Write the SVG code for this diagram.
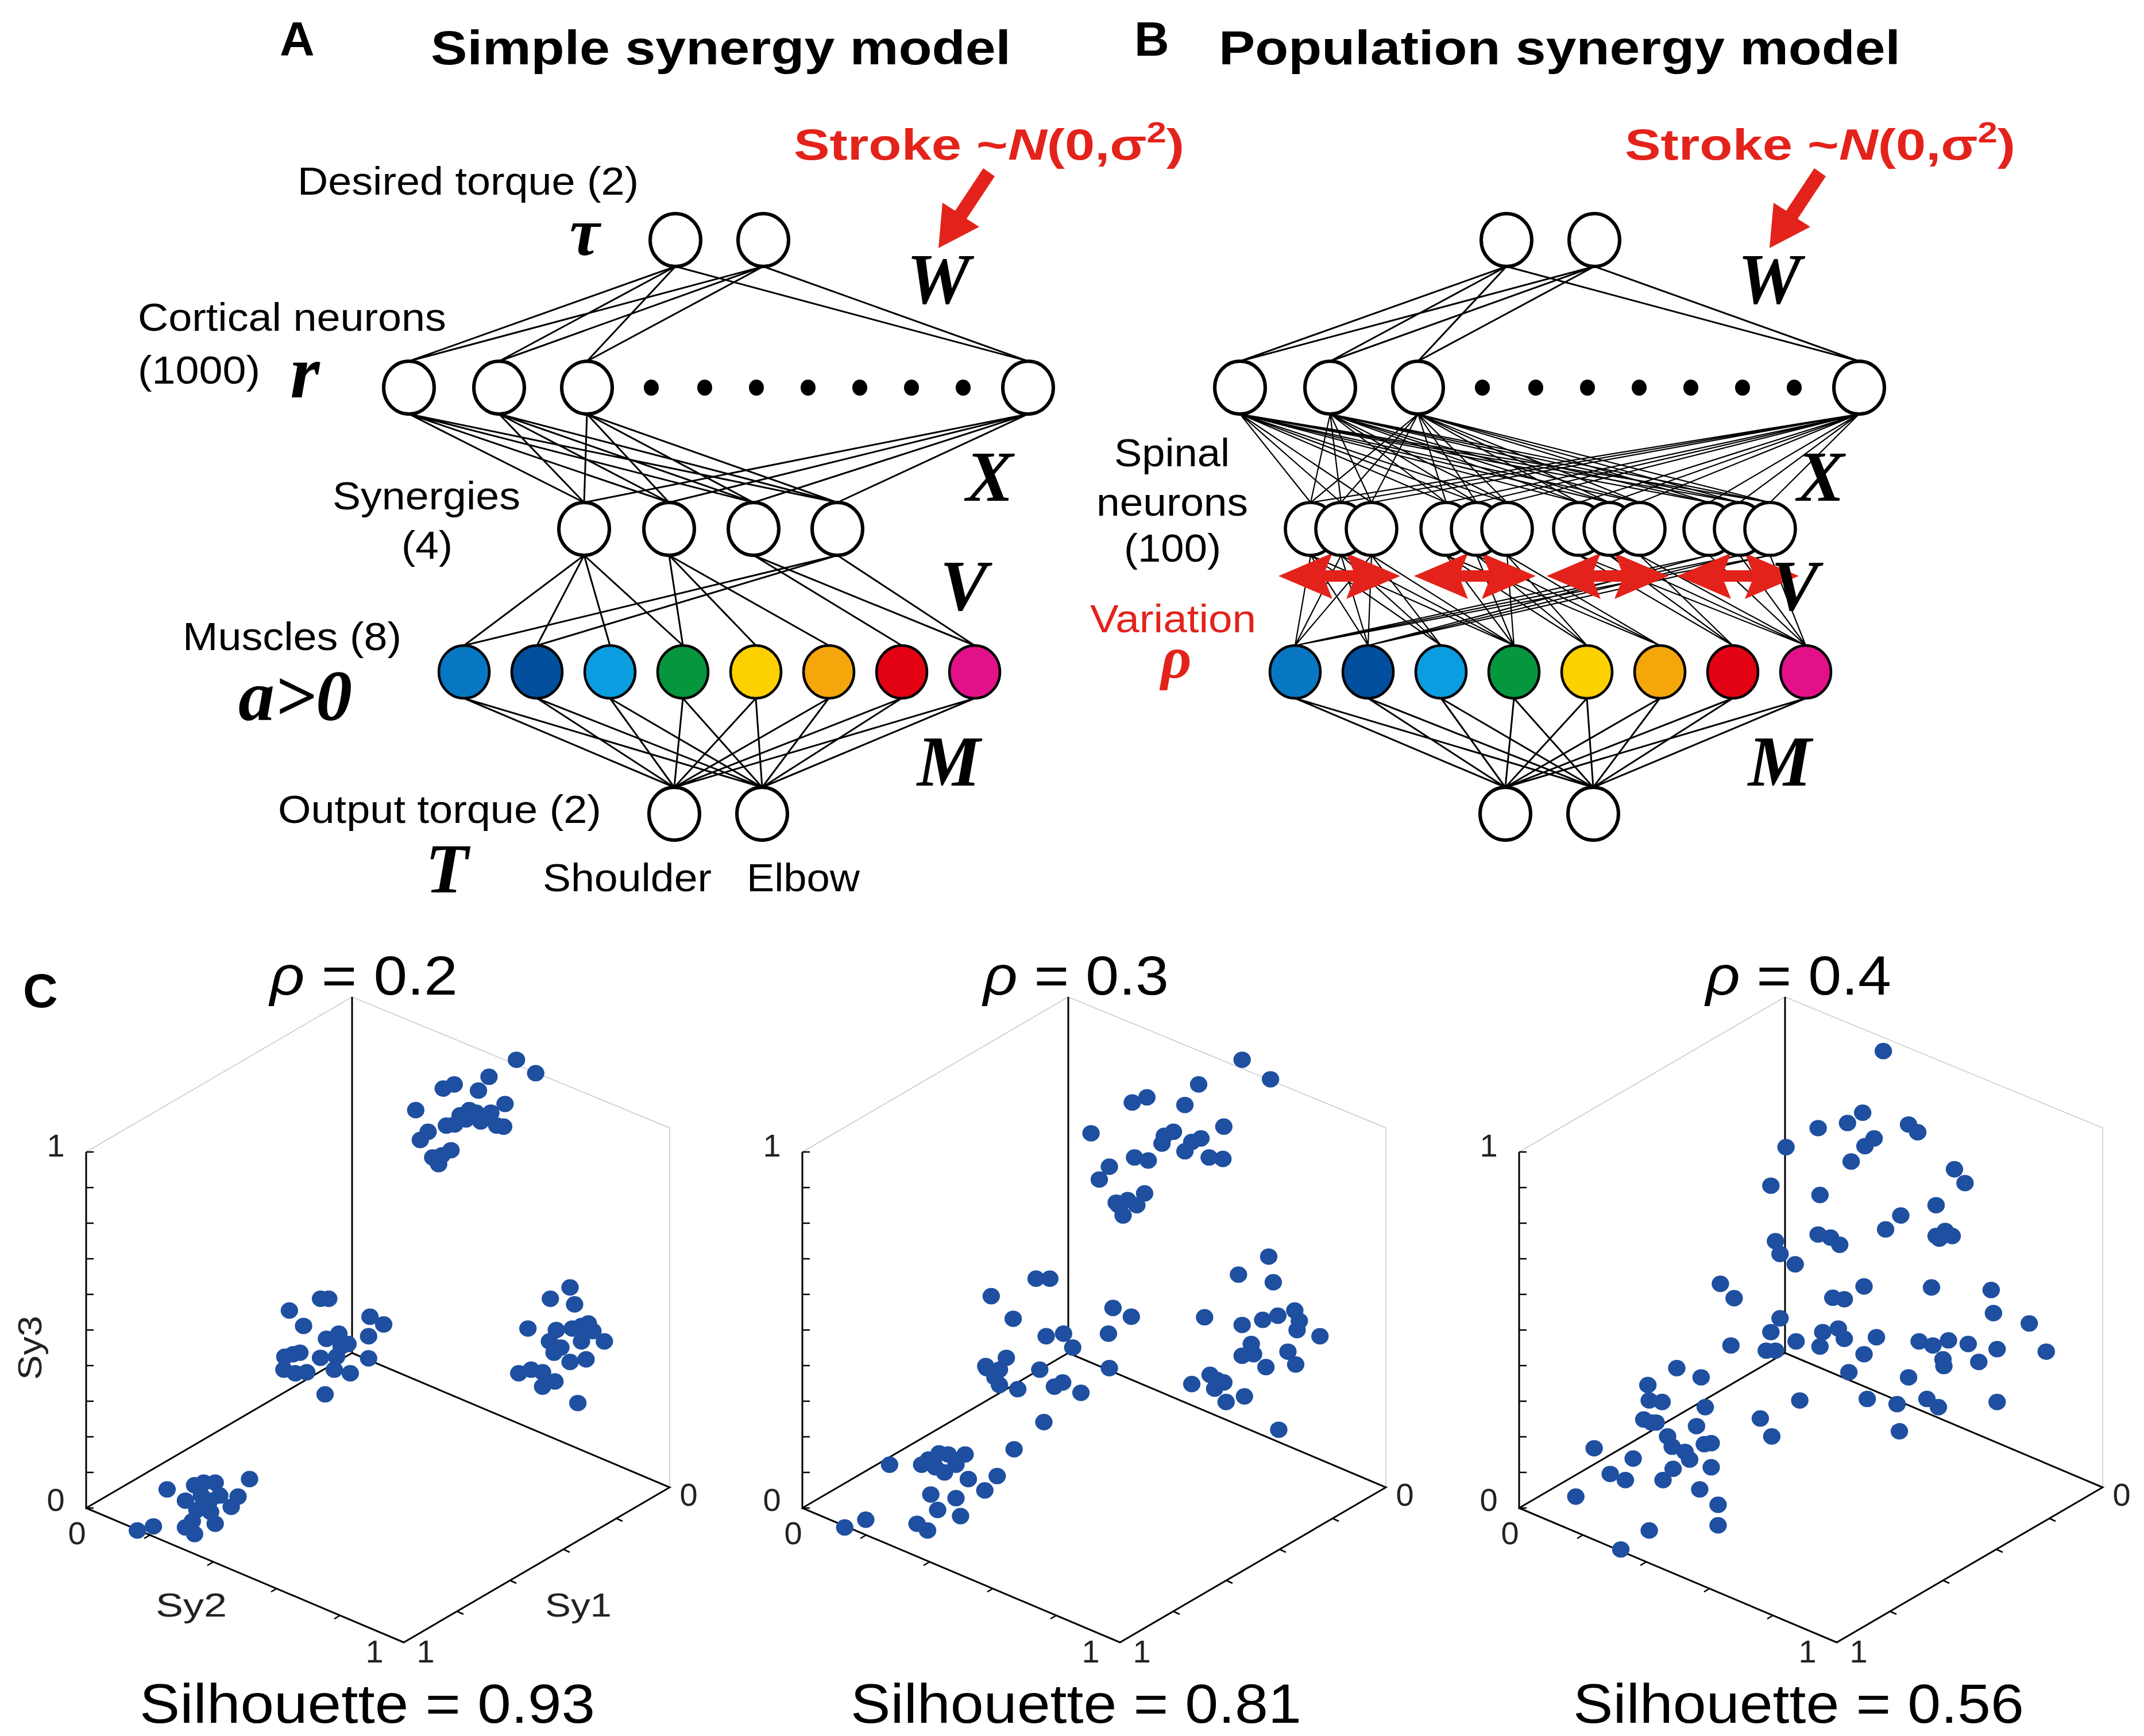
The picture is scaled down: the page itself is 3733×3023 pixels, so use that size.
<svg xmlns="http://www.w3.org/2000/svg" xmlns:xlink="http://www.w3.org/1999/xlink" width="3733" height="3023" viewBox="0 0 3733 3023">
<style>
.bg{fill:#fff}
.n{fill:#fff;stroke:#000;stroke-width:6}
.sp{fill:#fff;stroke:#000;stroke-width:5.5}
.m{stroke:#000;stroke-width:4.5}
.dot{fill:#000}
.c{stroke:#000;stroke-width:3;fill:none}
.cb{stroke:#000;stroke-width:2.2;fill:none}
.lab{font-family:"Liberation Sans",Arial,sans-serif;font-size:68px;fill:#000}
.ttl{font-family:"Liberation Sans",Arial,sans-serif;font-weight:bold;font-size:84px;fill:#000}
.mi{font-family:"Liberation Serif","Times New Roman",serif;font-style:italic;font-weight:bold;font-size:124px;fill:#000;text-anchor:middle}
.mb{font-family:"Liberation Serif","Times New Roman",serif;font-style:italic;font-weight:bold;fill:#000;text-anchor:middle}
.stk{font-family:"Liberation Sans",Arial,sans-serif;font-weight:bold;font-size:76px;fill:#e3231b}
.ax{stroke:#000;stroke-width:3;fill:none}
.gx{stroke:#c8c8c8;stroke-width:1.5;fill:none}
.tk{stroke:#000;stroke-width:2.5;fill:none}
.tl{font-family:"Liberation Sans",Arial,sans-serif;font-size:56px;fill:#222;text-anchor:middle}
.sy{font-family:"Liberation Sans",Arial,sans-serif;font-size:58px;fill:#222}
.big{font-family:"Liberation Sans",Arial,sans-serif;font-size:96px;fill:#000}
.red{fill:#e3231b}
</style>
<defs>
<ellipse id="d" rx="19" ry="16" fill="#1e4fa0"/>
<polygon id="dbl" points="-106,0 -12,-40 -24,-10 24,-10 12,-40 106,0 12,40 24,10 -24,10 -12,40" fill="#e3231b"/>
<polygon id="arr" points="1712,293 1663,367 1641,353 1634,432 1705,395 1683,381 1732,307" fill="#e3231b"/>
</defs>
<rect class="bg" x="0" y="0" width="3733" height="3023"/>

<!-- Titles -->
<text class="ttl" x="487" y="97" font-size="78">A</text>
<text class="ttl" x="750" y="112" textLength="1010" lengthAdjust="spacingAndGlyphs">Simple synergy model</text>
<text class="ttl" x="1975" y="97" font-size="78">B</text>
<text class="ttl" x="2122" y="112" textLength="1187" lengthAdjust="spacingAndGlyphs">Population synergy model</text>

<g id="connectors">
<!-- Panel A: W -->
<path class="c" d="M1176 464L712 629M1176 464L869 629M1176 464L1022 629M1176 464L1790 629M1329 464L712 629M1329 464L869 629M1329 464L1022 629M1329 464L1790 629"/>
<!-- Panel A: X -->
<path class="c" d="M712 721L1017 875M712 721L1165 875M712 721L1312 875M712 721L1458 875M869 721L1017 875M869 721L1165 875M869 721L1312 875M869 721L1458 875M1022 721L1017 875M1022 721L1165 875M1022 721L1312 875M1022 721L1458 875M1790 721L1017 875M1790 721L1165 875M1790 721L1312 875M1790 721L1458 875"/>
<!-- Panel A: V -->
<path class="c" d="M1017 967L808 1124M1017 967L935 1124M1017 967L1062 1124M1017 967L1189 1124M1165 967L1189 1124M1165 967L1316 1124M1165 967L1443 1124M1312 967L1570 1124M1312 967L1697 1124M1458 967L808 1124M1458 967L935 1124M1458 967L1697 1124"/>
<!-- Panel A: M -->
<path class="c" d="M808 1216L1174 1371M935 1216L1174 1371M1062 1216L1174 1371M1189 1216L1174 1371M1316 1216L1174 1371M1443 1216L1174 1371M1570 1216L1174 1371M1697 1216L1174 1371M808 1216L1327 1371M935 1216L1327 1371M1062 1216L1327 1371M1189 1216L1327 1371M1316 1216L1327 1371M1443 1216L1327 1371M1570 1216L1327 1371M1697 1216L1327 1371"/>
<!-- Panel B: W -->
<path class="c" d="M2623 464L2159 629M2623 464L2316 629M2623 464L2469 629M2623 464L3237 629M2776 464L2159 629M2776 464L2316 629M2776 464L2469 629M2776 464L3237 629"/>
<!-- Panel B: X -->
<path class="cb" d="M2159 721L2282 875M2159 721L2335 875M2159 721L2388 875M2159 721L2518 875M2159 721L2571 875M2159 721L2624 875M2159 721L2749 875M2159 721L2802 875M2159 721L2855 875M2159 721L2976 875M2159 721L3029 875M2159 721L3082 875"/>
<path class="cb" d="M2316 721L2282 875M2316 721L2335 875M2316 721L2388 875M2316 721L2518 875M2316 721L2571 875M2316 721L2624 875M2316 721L2749 875M2316 721L2802 875M2316 721L2855 875M2316 721L2976 875M2316 721L3029 875M2316 721L3082 875"/>
<path class="cb" d="M2469 721L2282 875M2469 721L2335 875M2469 721L2388 875M2469 721L2518 875M2469 721L2571 875M2469 721L2624 875M2469 721L2749 875M2469 721L2802 875M2469 721L2855 875M2469 721L2976 875M2469 721L3029 875M2469 721L3082 875"/>
<path class="cb" d="M3237 721L2282 875M3237 721L2335 875M3237 721L2388 875M3237 721L2518 875M3237 721L2571 875M3237 721L2624 875M3237 721L2749 875M3237 721L2802 875M3237 721L2855 875M3237 721L2976 875M3237 721L3029 875M3237 721L3082 875"/>
<!-- Panel B: V -->
<path class="cb" d="M2282 967L2255 1124M2282 967L2382 1124M2282 967L2509 1124M2282 967L2636 1124M2335 967L2255 1124M2335 967L2382 1124M2335 967L2509 1124M2335 967L2636 1124M2388 967L2255 1124M2388 967L2382 1124M2388 967L2509 1124M2388 967L2636 1124"/>
<path class="cb" d="M2518 967L2636 1124M2518 967L2763 1124M2518 967L2890 1124M2571 967L2636 1124M2571 967L2763 1124M2571 967L2890 1124M2624 967L2636 1124M2624 967L2763 1124M2624 967L2890 1124"/>
<path class="cb" d="M2749 967L3017 1124M2749 967L3144 1124M2802 967L3017 1124M2802 967L3144 1124M2855 967L3017 1124M2855 967L3144 1124"/>
<path class="cb" d="M2976 967L2255 1124M2976 967L2382 1124M2976 967L3144 1124M3029 967L2255 1124M3029 967L2382 1124M3029 967L3144 1124M3082 967L2255 1124M3082 967L2382 1124M3082 967L3144 1124"/>
<!-- Panel B: M -->
<path class="c" d="M2255 1216L2621 1371M2382 1216L2621 1371M2509 1216L2621 1371M2636 1216L2621 1371M2763 1216L2621 1371M2890 1216L2621 1371M3017 1216L2621 1371M3144 1216L2621 1371M2255 1216L2774 1371M2382 1216L2774 1371M2509 1216L2774 1371M2636 1216L2774 1371M2763 1216L2774 1371M2890 1216L2774 1371M3017 1216L2774 1371M3144 1216L2774 1371"/>
</g>

<!-- Red variation arrows -->
<g id="variation-arrows">
<use xlink:href="#dbl" href="#dbl" transform="translate(2332,1003)"/>
<use xlink:href="#dbl" href="#dbl" transform="translate(2568,1003)"/>
<use xlink:href="#dbl" href="#dbl" transform="translate(2799,1003)"/>
<use xlink:href="#dbl" href="#dbl" transform="translate(3026,1003)"/>
</g>

<!-- Panel A nodes -->
<g id="A-tau1"><ellipse class="n" cx="1176" cy="418" rx="44" ry="46"/></g>
<g id="A-tau2"><ellipse class="n" cx="1329" cy="418" rx="44" ry="46"/></g>
<g id="A-r1"><ellipse class="n" cx="712" cy="675" rx="44" ry="46"/></g>
<g id="A-r2"><ellipse class="n" cx="869" cy="675" rx="44" ry="46"/></g>
<g id="A-r3"><ellipse class="n" cx="1022" cy="675" rx="44" ry="46"/></g>
<g id="A-rN"><ellipse class="n" cx="1790" cy="675" rx="44" ry="46"/></g>
<g id="A-dots">
<ellipse class="dot" cx="1134" cy="675" rx="13" ry="14"/><ellipse class="dot" cx="1227" cy="675" rx="13" ry="14"/><ellipse class="dot" cx="1317" cy="675" rx="13" ry="14"/><ellipse class="dot" cx="1407" cy="675" rx="13" ry="14"/><ellipse class="dot" cx="1497" cy="675" rx="13" ry="14"/><ellipse class="dot" cx="1587" cy="675" rx="13" ry="14"/><ellipse class="dot" cx="1677" cy="675" rx="13" ry="14"/>
</g>
<g id="A-syn1"><ellipse class="n" cx="1017" cy="921" rx="44" ry="46"/></g>
<g id="A-syn2"><ellipse class="n" cx="1165" cy="921" rx="44" ry="46"/></g>
<g id="A-syn3"><ellipse class="n" cx="1312" cy="921" rx="44" ry="46"/></g>
<g id="A-syn4"><ellipse class="n" cx="1458" cy="921" rx="44" ry="46"/></g>
<g id="A-m1"><ellipse class="m" fill="#0877c3" cx="808" cy="1170" rx="44" ry="46"/></g>
<g id="A-m2"><ellipse class="m" fill="#024f9d" cx="935" cy="1170" rx="44" ry="46"/></g>
<g id="A-m3"><ellipse class="m" fill="#0a9de0" cx="1062" cy="1170" rx="44" ry="46"/></g>
<g id="A-m4"><ellipse class="m" fill="#06963e" cx="1189" cy="1170" rx="44" ry="46"/></g>
<g id="A-m5"><ellipse class="m" fill="#fdd000" cx="1316" cy="1170" rx="44" ry="46"/></g>
<g id="A-m6"><ellipse class="m" fill="#f4a60b" cx="1443" cy="1170" rx="44" ry="46"/></g>
<g id="A-m7"><ellipse class="m" fill="#e30114" cx="1570" cy="1170" rx="44" ry="46"/></g>
<g id="A-m8"><ellipse class="m" fill="#e2118a" cx="1697" cy="1170" rx="44" ry="46"/></g>
<g id="A-T1"><ellipse class="n" cx="1174" cy="1417" rx="44" ry="46"/></g>
<g id="A-T2"><ellipse class="n" cx="1327" cy="1417" rx="44" ry="46"/></g>

<!-- Panel B nodes -->
<g id="B-tau1"><ellipse class="n" cx="2623" cy="418" rx="44" ry="46"/></g>
<g id="B-tau2"><ellipse class="n" cx="2776" cy="418" rx="44" ry="46"/></g>
<g id="B-r1"><ellipse class="n" cx="2159" cy="675" rx="44" ry="46"/></g>
<g id="B-r2"><ellipse class="n" cx="2316" cy="675" rx="44" ry="46"/></g>
<g id="B-r3"><ellipse class="n" cx="2469" cy="675" rx="44" ry="46"/></g>
<g id="B-rN"><ellipse class="n" cx="3237" cy="675" rx="44" ry="46"/></g>
<g id="B-dots">
<ellipse class="dot" cx="2581" cy="675" rx="13" ry="14"/><ellipse class="dot" cx="2674" cy="675" rx="13" ry="14"/><ellipse class="dot" cx="2764" cy="675" rx="13" ry="14"/><ellipse class="dot" cx="2854" cy="675" rx="13" ry="14"/><ellipse class="dot" cx="2944" cy="675" rx="13" ry="14"/><ellipse class="dot" cx="3034" cy="675" rx="13" ry="14"/><ellipse class="dot" cx="3124" cy="675" rx="13" ry="14"/>
</g>
<g id="B-spinal1"><ellipse class="sp" cx="2282" cy="921" rx="44" ry="46"/><ellipse class="sp" cx="2335" cy="921" rx="44" ry="46"/><ellipse class="sp" cx="2388" cy="921" rx="44" ry="46"/></g>
<g id="B-spinal2"><ellipse class="sp" cx="2518" cy="921" rx="44" ry="46"/><ellipse class="sp" cx="2571" cy="921" rx="44" ry="46"/><ellipse class="sp" cx="2624" cy="921" rx="44" ry="46"/></g>
<g id="B-spinal3"><ellipse class="sp" cx="2749" cy="921" rx="44" ry="46"/><ellipse class="sp" cx="2802" cy="921" rx="44" ry="46"/><ellipse class="sp" cx="2855" cy="921" rx="44" ry="46"/></g>
<g id="B-spinal4"><ellipse class="sp" cx="2976" cy="921" rx="44" ry="46"/><ellipse class="sp" cx="3029" cy="921" rx="44" ry="46"/><ellipse class="sp" cx="3082" cy="921" rx="44" ry="46"/></g>
<g id="B-m1"><ellipse class="m" fill="#0877c3" cx="2255" cy="1170" rx="44" ry="46"/></g>
<g id="B-m2"><ellipse class="m" fill="#024f9d" cx="2382" cy="1170" rx="44" ry="46"/></g>
<g id="B-m3"><ellipse class="m" fill="#0a9de0" cx="2509" cy="1170" rx="44" ry="46"/></g>
<g id="B-m4"><ellipse class="m" fill="#06963e" cx="2636" cy="1170" rx="44" ry="46"/></g>
<g id="B-m5"><ellipse class="m" fill="#fdd000" cx="2763" cy="1170" rx="44" ry="46"/></g>
<g id="B-m6"><ellipse class="m" fill="#f4a60b" cx="2890" cy="1170" rx="44" ry="46"/></g>
<g id="B-m7"><ellipse class="m" fill="#e30114" cx="3017" cy="1170" rx="44" ry="46"/></g>
<g id="B-m8"><ellipse class="m" fill="#e2118a" cx="3144" cy="1170" rx="44" ry="46"/></g>
<g id="B-T1"><ellipse class="n" cx="2621" cy="1417" rx="44" ry="46"/></g>
<g id="B-T2"><ellipse class="n" cx="2774" cy="1417" rx="44" ry="46"/></g>

<!-- Panel A labels -->
<g id="A-labels">
<text class="lab" x="518" y="339" textLength="594" lengthAdjust="spacingAndGlyphs">Desired torque (2)</text>
<text class="mb" x="1018" y="444" font-size="118">τ</text>
<text class="lab" x="240" y="576" textLength="537" lengthAdjust="spacingAndGlyphs">Cortical neurons</text>
<text class="lab" x="240" y="668" textLength="213" lengthAdjust="spacingAndGlyphs">(1000)</text>
<text class="mb" x="531" y="692" font-size="132">r</text>
<text class="lab" x="579" y="887" textLength="327" lengthAdjust="spacingAndGlyphs">Synergies</text>
<text class="lab" x="699" y="973" textLength="89" lengthAdjust="spacingAndGlyphs">(4)</text>
<text class="lab" x="318" y="1132" textLength="381" lengthAdjust="spacingAndGlyphs">Muscles (8)</text>
<text class="mb" x="514" y="1254" font-size="124" textLength="198" lengthAdjust="spacingAndGlyphs">a&gt;0</text>
<text class="lab" x="484" y="1433" textLength="563" lengthAdjust="spacingAndGlyphs">Output torque (2)</text>
<text class="mb" x="778" y="1554" font-size="122">T</text>
<text class="lab" x="945" y="1552" textLength="294" lengthAdjust="spacingAndGlyphs">Shoulder</text>
<text class="lab" x="1300" y="1552" textLength="197" lengthAdjust="spacingAndGlyphs">Elbow</text>
<text class="mi" x="1634" y="528">W</text>
<text class="mi" x="1723" y="872">X</text>
<text class="mi" x="1678" y="1062">V</text>
<text class="mi" x="1652" y="1368">M</text>
<text class="stk" x="1382" y="278" textLength="680" lengthAdjust="spacingAndGlyphs">Stroke ~<tspan font-style="italic">N</tspan>(0,σ<tspan dy="-30" font-size="50">2</tspan><tspan dy="30">)</tspan></text>
<use xlink:href="#arr" href="#arr"/>
</g>

<!-- Panel B labels -->
<g id="B-labels">
<text class="lab" x="1940" y="812" textLength="201" lengthAdjust="spacingAndGlyphs">Spinal</text>
<text class="lab" x="1909" y="898" textLength="264" lengthAdjust="spacingAndGlyphs">neurons</text>
<text class="lab" x="1957" y="978" textLength="169" lengthAdjust="spacingAndGlyphs">(100)</text>
<text class="lab" x="1898" y="1101" textLength="289" lengthAdjust="spacingAndGlyphs" style="fill:#e3231b">Variation</text>
<text class="mb" x="2048" y="1180" font-size="104" style="fill:#e3231b">ρ</text>
<text class="mi" x="3081" y="528">W</text>
<text class="mi" x="3170" y="872">X</text>
<text class="mi" x="3125" y="1062">V</text>
<text class="mi" x="3099" y="1368">M</text>
<text class="stk" x="2829" y="278" textLength="680" lengthAdjust="spacingAndGlyphs">Stroke ~<tspan font-style="italic">N</tspan>(0,σ<tspan dy="-30" font-size="50">2</tspan><tspan dy="30">)</tspan></text>
<use xlink:href="#arr" href="#arr" transform="translate(1447,0)"/>
</g>

<!-- Panel C -->
<text class="ttl" x="40" y="1754" font-size="76">C</text>

<g id="C-frame1">
<path class="gx" d="M150 2006L613 1736L1166 1964L1166 2590"/>
<path class="ax" d="M613 1736L613 2356L150 2626L150 2006M613 2356L1166 2590L703 2860L150 2626"/>
<path class="tk" d="M150 2626h13M150 2564h13M150 2502h13M150 2440h13M150 2378h13M150 2316h13M150 2254h13M150 2192h13M150 2130h13M150 2068h13M150 2006h13"/>
<path class="tk" d="M261 2673l-10 6M371 2720l-10 6M482 2766l-10 6M592 2813l-10 6M796 2806l11 5M888 2752l11 5M981 2698l11 5M1073 2644l11 5"/>
<text class="tl" x="97" y="2014">1</text>
<text class="tl" x="97" y="2631">0</text>
<text class="tl" x="134" y="2689">0</text>
<text class="tl" x="652" y="2895">1</text>
<text class="tl" x="741" y="2895">1</text>
<text class="tl" x="1199" y="2622">0</text>
</g>
<g id="C-frame2" transform="translate(1247,0)">
<path class="gx" d="M150 2006L613 1736L1166 1964L1166 2590"/>
<path class="ax" d="M613 1736L613 2356L150 2626L150 2006M613 2356L1166 2590L703 2860L150 2626"/>
<path class="tk" d="M150 2626h13M150 2564h13M150 2502h13M150 2440h13M150 2378h13M150 2316h13M150 2254h13M150 2192h13M150 2130h13M150 2068h13M150 2006h13"/>
<path class="tk" d="M261 2673l-10 6M371 2720l-10 6M482 2766l-10 6M592 2813l-10 6M796 2806l11 5M888 2752l11 5M981 2698l11 5M1073 2644l11 5"/>
<text class="tl" x="97" y="2014">1</text>
<text class="tl" x="97" y="2631">0</text>
<text class="tl" x="134" y="2689">0</text>
<text class="tl" x="652" y="2895">1</text>
<text class="tl" x="741" y="2895">1</text>
<text class="tl" x="1199" y="2622">0</text>
</g>
<g id="C-frame3" transform="translate(2495,0)">
<path class="gx" d="M150 2006L613 1736L1166 1964L1166 2590"/>
<path class="ax" d="M613 1736L613 2356L150 2626L150 2006M613 2356L1166 2590L703 2860L150 2626"/>
<path class="tk" d="M150 2626h13M150 2564h13M150 2502h13M150 2440h13M150 2378h13M150 2316h13M150 2254h13M150 2192h13M150 2130h13M150 2068h13M150 2006h13"/>
<path class="tk" d="M261 2673l-10 6M371 2720l-10 6M482 2766l-10 6M592 2813l-10 6M796 2806l11 5M888 2752l11 5M981 2698l11 5M1073 2644l11 5"/>
<text class="tl" x="97" y="2014">1</text>
<text class="tl" x="97" y="2631">0</text>
<text class="tl" x="134" y="2689">0</text>
<text class="tl" x="652" y="2895">1</text>
<text class="tl" x="741" y="2895">1</text>
<text class="tl" x="1199" y="2622">0</text>
</g>

<g id="C-axis-names">
<text class="sy" text-anchor="middle" transform="translate(72,2347) rotate(-90)" textLength="112" lengthAdjust="spacingAndGlyphs">Sy3</text>
<text class="sy" x="271" y="2815" textLength="124" lengthAdjust="spacingAndGlyphs">Sy2</text>
<text class="sy" x="949" y="2815" textLength="116" lengthAdjust="spacingAndGlyphs">Sy1</text>
</g>

<g id="C-titles">
<text class="big" x="470" y="1732" textLength="327" lengthAdjust="spacingAndGlyphs"><tspan font-style="italic">ρ</tspan> = 0.2</text>
<text class="big" x="1712" y="1732" textLength="323" lengthAdjust="spacingAndGlyphs"><tspan font-style="italic">ρ</tspan> = 0.3</text>
<text class="big" x="2970" y="1732" textLength="323" lengthAdjust="spacingAndGlyphs"><tspan font-style="italic">ρ</tspan> = 0.4</text>
<text class="big" x="243" y="3000" font-size="100" textLength="793" lengthAdjust="spacingAndGlyphs">Silhouette = 0.93</text>
<text class="big" x="1481" y="3000" font-size="100" textLength="785" lengthAdjust="spacingAndGlyphs">Silhouette = 0.81</text>
<text class="big" x="2739" y="3000" font-size="100" textLength="785" lengthAdjust="spacingAndGlyphs">Silhouette = 0.56</text>
</g>

<g id="C-points1" transform="translate(0,1620) scale(0.7972,0.8948)">
<use href="#d" x="1128" y="252"/><use href="#d" x="1170" y="278"/><use href="#d" x="1068" y="285"/><use href="#d" x="968" y="308"/><use href="#d" x="992" y="300"/><use href="#d" x="1045" y="312"/><use href="#d" x="908" y="350"/><use href="#d" x="1103" y="338"/><use href="#d" x="1025" y="350"/><use href="#d" x="1005" y="360"/><use href="#d" x="1040" y="355"/><use href="#d" x="1072" y="355"/><use href="#d" x="975" y="380"/><use href="#d" x="993" y="378"/><use href="#d" x="1050" y="372"/><use href="#d" x="1018" y="368"/><use href="#d" x="1100" y="382"/><use href="#d" x="935" y="392"/><use href="#d" x="918" y="408"/><use href="#d" x="985" y="428"/><use href="#d" x="965" y="438"/><use href="#d" x="945" y="442"/><use href="#d" x="958" y="455"/><use href="#d" x="1085" y="380"/>
<use href="#d" x="700" y="717"/><use href="#d" x="718" y="717"/><use href="#d" x="632" y="740"/><use href="#d" x="663" y="770"/><use href="#d" x="740" y="785"/><use href="#d" x="713" y="795"/><use href="#d" x="808" y="752"/><use href="#d" x="838" y="767"/><use href="#d" x="805" y="790"/><use href="#d" x="622" y="830"/><use href="#d" x="640" y="825"/><use href="#d" x="655" y="822"/><use href="#d" x="700" y="832"/><use href="#d" x="745" y="810"/><use href="#d" x="760" y="805"/><use href="#d" x="620" y="855"/><use href="#d" x="645" y="862"/><use href="#d" x="670" y="860"/><use href="#d" x="730" y="855"/><use href="#d" x="765" y="862"/><use href="#d" x="805" y="833"/><use href="#d" x="710" y="903"/><use href="#d" x="735" y="830"/>
<use href="#d" x="1245" y="695"/><use href="#d" x="1202" y="717"/><use href="#d" x="1255" y="728"/><use href="#d" x="1153" y="775"/><use href="#d" x="1215" y="778"/><use href="#d" x="1250" y="775"/><use href="#d" x="1270" y="770"/><use href="#d" x="1285" y="765"/><use href="#d" x="1295" y="780"/><use href="#d" x="1320" y="800"/><use href="#d" x="1200" y="800"/><use href="#d" x="1225" y="812"/><use href="#d" x="1270" y="800"/><use href="#d" x="1210" y="822"/><use href="#d" x="1245" y="840"/><use href="#d" x="1280" y="835"/><use href="#d" x="1133" y="862"/><use href="#d" x="1160" y="855"/><use href="#d" x="1185" y="860"/><use href="#d" x="1185" y="888"/><use href="#d" x="1212" y="878"/><use href="#d" x="1262" y="920"/>
<use href="#d" x="365" y="1088"/><use href="#d" x="425" y="1080"/><use href="#d" x="445" y="1075"/><use href="#d" x="470" y="1075"/><use href="#d" x="545" y="1068"/><use href="#d" x="405" y="1110"/><use href="#d" x="440" y="1100"/><use href="#d" x="480" y="1100"/><use href="#d" x="520" y="1102"/><use href="#d" x="505" y="1122"/><use href="#d" x="430" y="1128"/><use href="#d" x="460" y="1132"/><use href="#d" x="470" y="1155"/><use href="#d" x="420" y="1150"/><use href="#d" x="405" y="1162"/><use href="#d" x="425" y="1175"/><use href="#d" x="300" y="1168"/><use href="#d" x="335" y="1160"/><use href="#d" x="458" y="1110"/>
</g>

<g id="C-points2" transform="translate(1230,1620) scale(0.7972,0.8948)">
<use href="#d" x="1170" y="252"/><use href="#d" x="1232" y="290"/><use href="#d" x="1075" y="300"/><use href="#d" x="930" y="335"/><use href="#d" x="962" y="325"/><use href="#d" x="1045" y="340"/><use href="#d" x="840" y="395"/><use href="#d" x="1130" y="382"/><use href="#d" x="1020" y="392"/><use href="#d" x="1000" y="400"/><use href="#d" x="995" y="415"/><use href="#d" x="1060" y="412"/><use href="#d" x="1080" y="405"/><use href="#d" x="1045" y="430"/><use href="#d" x="1098" y="442"/><use href="#d" x="1128" y="445"/><use href="#d" x="935" y="442"/><use href="#d" x="965" y="448"/><use href="#d" x="880" y="460"/><use href="#d" x="858" y="485"/><use href="#d" x="957" y="512"/><use href="#d" x="895" y="530"/><use href="#d" x="920" y="525"/><use href="#d" x="940" y="535"/><use href="#d" x="910" y="555"/><use href="#d" x="900" y="535"/>
<use href="#d" x="1228" y="635"/><use href="#d" x="1162" y="670"/><use href="#d" x="1238" y="685"/><use href="#d" x="1088" y="753"/><use href="#d" x="888" y="735"/><use href="#d" x="928" y="752"/><use href="#d" x="1170" y="768"/><use href="#d" x="1215" y="758"/><use href="#d" x="1248" y="750"/><use href="#d" x="1285" y="740"/><use href="#d" x="1295" y="760"/><use href="#d" x="1340" y="790"/><use href="#d" x="1290" y="778"/><use href="#d" x="878" y="785"/><use href="#d" x="1190" y="805"/><use href="#d" x="1170" y="828"/><use href="#d" x="1195" y="825"/><use href="#d" x="1222" y="850"/><use href="#d" x="1270" y="820"/><use href="#d" x="1287" y="845"/><use href="#d" x="880" y="852"/><use href="#d" x="1100" y="865"/><use href="#d" x="1060" y="883"/><use href="#d" x="1115" y="875"/><use href="#d" x="1130" y="880"/><use href="#d" x="1110" y="892"/><use href="#d" x="1135" y="918"/><use href="#d" x="1175" y="907"/><use href="#d" x="1250" y="972"/>
<use href="#d" x="720" y="678"/><use href="#d" x="750" y="678"/><use href="#d" x="622" y="712"/><use href="#d" x="670" y="756"/><use href="#d" x="742" y="790"/><use href="#d" x="780" y="785"/><use href="#d" x="800" y="812"/><use href="#d" x="610" y="848"/><use href="#d" x="655" y="832"/><use href="#d" x="640" y="855"/><use href="#d" x="612" y="852"/><use href="#d" x="728" y="855"/><use href="#d" x="760" y="888"/><use href="#d" x="778" y="880"/><use href="#d" x="818" y="900"/><use href="#d" x="640" y="885"/><use href="#d" x="680" y="893"/><use href="#d" x="630" y="870"/><use href="#d" x="737" y="957"/><use href="#d" x="672" y="1010"/>
<use href="#d" x="400" y="1040"/><use href="#d" x="485" y="1030"/><use href="#d" x="508" y="1018"/><use href="#d" x="528" y="1020"/><use href="#d" x="565" y="1020"/><use href="#d" x="500" y="1045"/><use href="#d" x="520" y="1055"/><use href="#d" x="545" y="1040"/><use href="#d" x="572" y="1068"/><use href="#d" x="635" y="1062"/><use href="#d" x="490" y="1098"/><use href="#d" x="545" y="1105"/><use href="#d" x="608" y="1090"/><use href="#d" x="505" y="1128"/><use href="#d" x="555" y="1140"/><use href="#d" x="460" y="1155"/><use href="#d" x="483" y="1168"/><use href="#d" x="348" y="1147"/><use href="#d" x="302" y="1162"/><use href="#d" x="470" y="1040"/>
</g>

<g id="C-points3" transform="translate(2480,1620) scale(0.7991,0.8948)">
<use href="#d" x="1000" y="235"/><use href="#d" x="955" y="355"/><use href="#d" x="858" y="385"/><use href="#d" x="922" y="375"/><use href="#d" x="1055" y="378"/><use href="#d" x="1075" y="393"/><use href="#d" x="980" y="405"/><use href="#d" x="960" y="420"/><use href="#d" x="788" y="422"/><use href="#d" x="930" y="450"/><use href="#d" x="1155" y="465"/><use href="#d" x="1178" y="492"/><use href="#d" x="755" y="497"/><use href="#d" x="862" y="515"/><use href="#d" x="1115" y="535"/><use href="#d" x="1038" y="555"/><use href="#d" x="1005" y="582"/><use href="#d" x="858" y="592"/><use href="#d" x="885" y="598"/><use href="#d" x="905" y="612"/><use href="#d" x="1115" y="595"/><use href="#d" x="1135" y="585"/><use href="#d" x="1150" y="595"/><use href="#d" x="1122" y="600"/><use href="#d" x="765" y="605"/><use href="#d" x="775" y="630"/><use href="#d" x="808" y="650"/><use href="#d" x="645" y="688"/><use href="#d" x="675" y="716"/><use href="#d" x="958" y="693"/><use href="#d" x="1105" y="695"/><use href="#d" x="1235" y="700"/><use href="#d" x="890" y="715"/><use href="#d" x="915" y="718"/><use href="#d" x="1240" y="745"/><use href="#d" x="775" y="755"/><use href="#d" x="755" y="782"/><use href="#d" x="868" y="782"/><use href="#d" x="902" y="775"/><use href="#d" x="915" y="795"/><use href="#d" x="985" y="792"/><use href="#d" x="1318" y="765"/><use href="#d" x="810" y="800"/><use href="#d" x="668" y="808"/><use href="#d" x="745" y="818"/><use href="#d" x="765" y="818"/><use href="#d" x="862" y="810"/><use href="#d" x="1078" y="800"/><use href="#d" x="1108" y="808"/><use href="#d" x="1142" y="798"/><use href="#d" x="1185" y="805"/><use href="#d" x="1248" y="815"/><use href="#d" x="1355" y="820"/><use href="#d" x="958" y="825"/><use href="#d" x="1130" y="835"/><use href="#d" x="1132" y="848"/><use href="#d" x="1208" y="840"/><use href="#d" x="550" y="852"/><use href="#d" x="603" y="870"/><use href="#d" x="925" y="860"/><use href="#d" x="1055" y="870"/><use href="#d" x="487" y="885"/><use href="#d" x="490" y="915"/><use href="#d" x="518" y="918"/><use href="#d" x="612" y="928"/><use href="#d" x="818" y="915"/><use href="#d" x="965" y="912"/><use href="#d" x="1030" y="922"/><use href="#d" x="1095" y="912"/><use href="#d" x="1120" y="928"/><use href="#d" x="1248" y="918"/><use href="#d" x="478" y="952"/><use href="#d" x="505" y="958"/><use href="#d" x="732" y="950"/><use href="#d" x="593" y="965"/><use href="#d" x="530" y="985"/><use href="#d" x="757" y="985"/><use href="#d" x="1035" y="975"/><use href="#d" x="370" y="1008"/><use href="#d" x="610" y="1000"/><use href="#d" x="625" y="998"/><use href="#d" x="540" y="1005"/><use href="#d" x="568" y="1015"/><use href="#d" x="578" y="1030"/><use href="#d" x="455" y="1028"/><use href="#d" x="625" y="1045"/><use href="#d" x="405" y="1058"/><use href="#d" x="438" y="1070"/><use href="#d" x="542" y="1048"/><use href="#d" x="520" y="1070"/><use href="#d" x="600" y="1088"/><use href="#d" x="330" y="1102"/><use href="#d" x="640" y="1118"/><use href="#d" x="640" y="1158"/><use href="#d" x="490" y="1168"/><use href="#d" x="428" y="1205"/><use href="#d" x="495" y="958"/>
</g>
</svg>
